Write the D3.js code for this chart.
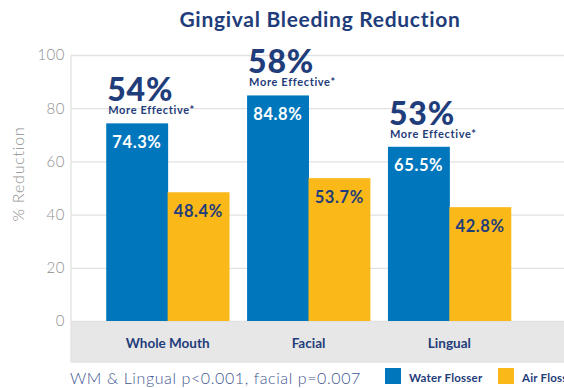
<!DOCTYPE html>
<html>
<head>
<meta charset="utf-8">
<script src="https://cdn.jsdelivr.net/npm/d3@7/dist/d3.min.js"></script>
<style>
  html, body { margin: 0; padding: 0; background: #fff; }
  svg { display: block; font-family: Lato, "Noto Sans", sans-serif; }
</style>
</head>
<body>
<svg id="chart" width="564" height="388"></svg>
<script>
// Gingival bleeding reduction by site, water flosser vs air floss
const categories = ["Whole Mouth", "Facial", "Lingual"];
const seriesNames = ["Water Flosser", "Air Floss"];
const waterFlosser = [74.3, 84.8, 65.5];
const airFloss = [48.4, 53.7, 42.8];
const moreEffective = ["54%", "58%", "53%"];
const yTicks = [0, 20, 40, 60, 80, 100];

const W = 564, H = 388;
const navy = "#1f3d7a";
const blue = "#0077bd";
const gold = "#fbb819";
const colors = [blue, gold];

const svg = d3.select("#chart");

const plotLeft = 71, yZero = 321, yTop = 55, bandBottom = 362;

const x = d3.scaleBand().domain(categories).range([plotLeft, 546])
  .paddingInner(0.128).paddingOuter(0.25);
const xs = d3.scaleBand().domain(seriesNames).range([0, x.bandwidth()]).padding(0);
const y = d3.scaleLinear().domain([0, 100]).range([yZero, yTop]);

// Title
svg.append("text")
  .attr("x", 320).attr("y", 27)
  .attr("text-anchor", "middle")
  .attr("fill", navy)
  .attr("font-size", 21).attr("font-weight", 700)
  .attr("letter-spacing", 0.7)
  .text("Gingival Bleeding Reduction");

// Category band below the zero line
svg.append("rect")
  .attr("x", plotLeft).attr("y", yZero)
  .attr("width", W - plotLeft).attr("height", bandBottom - yZero)
  .attr("fill", "#e7e7e7");
svg.append("line")
  .attr("x1", plotLeft).attr("x2", W)
  .attr("y1", bandBottom).attr("y2", bandBottom)
  .attr("stroke", "#dcdcdc").attr("stroke-width", 1);

// Gridlines and y axis
const yAxis = d3.axisLeft(y).tickValues(yTicks).tickSize(-(W - plotLeft)).tickPadding(6);
const gy = svg.append("g").attr("transform", `translate(${plotLeft},0)`).call(yAxis);
gy.select(".domain").remove();
gy.selectAll(".tick line").attr("stroke", "#e2e2e2").attr("stroke-width", 1.3);
gy.selectAll(".tick text")
  .attr("fill", "#8e8e8e").attr("font-size", 15).attr("font-weight", 300)
  .attr("letter-spacing", 0.5)
  .attr("font-family", "Lato, sans-serif");
svg.append("line")
  .attr("x1", plotLeft).attr("x2", plotLeft)
  .attr("y1", yTop).attr("y2", bandBottom)
  .attr("stroke", "#e2e2e2").attr("stroke-width", 1.3);

// Y axis title
svg.append("text")
  .attr("transform", "translate(24,174) rotate(-90)")
  .attr("text-anchor", "middle")
  .attr("fill", "#8e8e8e").attr("font-size", 16).attr("font-weight", 300)
  .attr("letter-spacing", 0.8)
  .text("% Reduction");

// Bars
const rows = categories.map((c, i) => ({
  category: c,
  values: [waterFlosser[i], airFloss[i]],
  note: moreEffective[i]
}));

const groups = svg.selectAll("g.group").data(rows).join("g")
  .attr("class", "group")
  .attr("transform", d => `translate(${x(d.category)},0)`);

groups.selectAll("rect").data(d => d.values.map((v, j) => ({ name: seriesNames[j], v, j })))
  .join("rect")
  .attr("x", d => xs(d.name))
  .attr("y", d => y(d.v))
  .attr("width", xs.bandwidth() + 0.5)
  .attr("height", d => yZero - y(d.v))
  .attr("fill", d => colors[d.j]);

// Value labels inside bars
groups.selectAll("text.val").data(d => d.values.map((v, j) => ({ name: seriesNames[j], v, j })))
  .join("text")
  .attr("class", "val")
  .attr("x", d => xs(d.name) + xs.bandwidth() / 2)
  .attr("y", d => y(d.v) + 24.5)
  .attr("text-anchor", "middle")
  .attr("fill", d => d.j === 0 ? "#ffffff" : navy)
  .attr("font-size", 16.5).attr("font-weight", 700)
  .attr("letter-spacing", 0.6)
  .text(d => d.v.toFixed(1) + "%");

// "More Effective" callouts above the water flosser bars
groups.append("text")
  .attr("x", xs(seriesNames[0]) + 1)
  .attr("y", d => y(d.values[0]) - 22)
  .attr("fill", navy)
  .attr("font-size", 32).attr("font-weight", 900)
  .attr("letter-spacing", 0.8)
  .text(d => d.note);
groups.append("text")
  .attr("x", xs(seriesNames[0]) + 2)
  .attr("y", d => y(d.values[0]) - 9)
  .attr("fill", navy)
  .attr("font-size", 11).attr("font-weight", 700)
  .attr("letter-spacing", 0.65)
  .text("More Effective*");

// Category labels
svg.selectAll("text.cat").data(categories).join("text")
  .attr("class", "cat")
  .attr("x", d => x(d) + x.bandwidth() / 2)
  .attr("y", 348)
  .attr("text-anchor", "middle")
  .attr("fill", navy)
  .attr("font-size", 13.5).attr("font-weight", 700)
  .text(d => d);

// Footnote
svg.append("text")
  .attr("x", 70).attr("y", 384)
  .attr("fill", "#3f5790")
  .attr("font-size", 16).attr("font-weight", 300)
  .attr("letter-spacing", 0.6)
  .text("WM & Lingual p<0.001, facial p=0.007");

// Legend
const legendX = [385, 498];
const legend = svg.selectAll("g.legend").data(seriesNames).join("g")
  .attr("class", "legend")
  .attr("transform", (d, i) => `translate(${legendX[i]},368)`);
legend.append("rect")
  .attr("width", 16).attr("height", 16)
  .attr("fill", (d, i) => colors[i]);
legend.append("text")
  .attr("x", 24).attr("y", 13.5)
  .attr("fill", navy)
  .attr("font-size", 11.5).attr("font-weight", 700)
  .attr("letter-spacing", 0.2)
  .text(d => d);
</script>
</body>
</html>
